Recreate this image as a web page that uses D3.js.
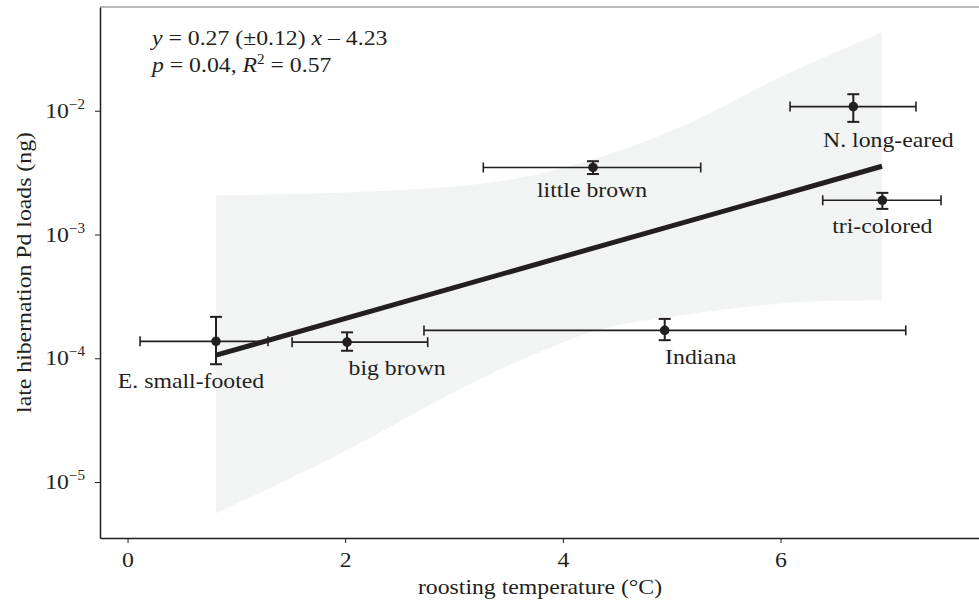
<!DOCTYPE html>
<html>
<head>
<meta charset="utf-8">
<script src="https://cdn.jsdelivr.net/npm/d3@7"></script>
<style>
  body { margin: 0; background: #fff; }
  svg text { font-family: "Liberation Serif", "Times New Roman", serif; fill: #231f20; }
</style>
</head>
<body>
<div id="viz"></div>
<script>
// species summaries (temperature in °C, load in ng)
var species  = ['E. small-footed', 'big brown', 'Indiana', 'little brown', 'N. long-eared', 'tri-colored'];
var tempMean = [0.813, 2.017, 4.936, 4.277, 6.669, 6.936];
var tempLow  = [0.115, 1.512, 2.724, 3.269, 6.088, 6.388];
var tempHigh = [1.291, 2.758, 7.151, 5.267, 7.245, 7.475];
var loadMean = [1.37e-4, 1.35e-4, 1.68e-4, 3.48e-3, 1.08e-2, 1.89e-3];
var loadLow  = [8.95e-5, 1.15e-4, 1.40e-4, 3.08e-3, 8.13e-3, 1.61e-3];
var loadHigh = [2.16e-4, 1.62e-4, 2.08e-4, 3.91e-3, 1.36e-2, 2.17e-3];

// fitted line end points
var fitTemp = [0.813, 6.933];
var fitLoad = [1.06e-4, 3.56e-3];

// confidence band edges
var bandUpperTemp = [0.813, 2.044, 3.423, 4.250, 5.077, 5.996, 6.933];
var bandUpperLoad = [2.07e-3, 2.19e-3, 2.69e-3, 3.98e-3, 7.35e-3, 1.86e-2, 4.31e-2];
var bandLowerTemp = [0.813, 1.888, 2.807, 3.147, 3.698, 4.341, 4.957, 6.060, 6.933];
var bandLowerLoad = [5.6e-6, 1.58e-5, 4.33e-5, 6.2e-5, 1.04e-4, 1.71e-4, 2.14e-4, 2.80e-4, 2.94e-4];

var xTicks = [0, 2, 4, 6];
var yTickExp = [-2, -3, -4, -5];

// label placement relative to each point (pixels)
var labelOffset = {
  'E. small-footed': [-25, 47],
  'big brown':       [50, 33],
  'Indiana':         [36, 34],
  'little brown':    [-1, 30],
  'N. long-eared':   [35, 40],
  'tri-colored':     [0, 33]
};

var W = 979, H = 600;
var plotL = 100, plotR = 979, plotT = 7, plotB = 538;
var ink = '#231f20';
var fs = 22;          // base font size
var stretch = 1.08;   // the original type is set slightly wide

var x = d3.scaleLinear().domain([-0.253, 7.824]).range([plotL, plotR]);
var y = d3.scaleLog().domain([3.53e-6, 0.0689]).range([plotB, plotT]);

var svg = d3.select('#viz').append('svg').attr('width', W).attr('height', H);

// text placed at (px, py), widened horizontally
function label(px, py, rot) {
  return svg.append('g')
    .attr('transform', 'translate(' + px + ',' + py + ')' + (rot ? ' rotate(' + rot + ')' : '') + ' scale(' + stretch + ',1)')
    .append('text').style('font-size', fs + 'px');
}

// confidence band
var edge = d3.line().x(function(d) { return x(d[0]); }).y(function(d) { return y(d[1]); })
  .curve(d3.curveCatmullRom);
var upper = d3.zip(bandUpperTemp, bandUpperLoad);
var lower = d3.zip(bandLowerTemp, bandLowerLoad).reverse();
svg.append('path')
  .attr('d', edge(upper) + 'L' + edge(lower).slice(1) + 'Z')
  .style('fill', '#f2f3f3');

// frame
svg.append('line').attr('x1', plotL).attr('x2', plotR).attr('y1', plotT).attr('y2', plotT)
  .style('stroke', '#a5a5a5').style('stroke-width', 1.5);

// axes
var xAxis = svg.append('g').attr('transform', 'translate(0,' + plotB + ')')
  .call(d3.axisBottom(x).tickValues(xTicks).tickSize(5).tickSizeOuter(0).tickFormat(d3.format('d')));
xAxis.select('.domain').style('stroke', ink).style('stroke-width', 1.5);
xAxis.selectAll('.tick line').style('stroke', ink);
xAxis.selectAll('.tick text')
  .attr('y', 29).attr('dy', 0)
  .attr('transform', 'scale(' + stretch + ',1)')
  .style('font-size', fs + 'px').style('fill', ink);

var yAxis = svg.append('g').attr('transform', 'translate(' + plotL + ',0)')
  .call(d3.axisLeft(y).tickValues(yTickExp.map(function(e) { return Math.pow(10, e); }))
    .tickSize(5).tickSizeOuter(0).tickFormat(''));
yAxis.select('.domain').style('stroke', ink).style('stroke-width', 1.5);
yAxis.selectAll('.tick line').style('stroke', ink);

yTickExp.forEach(function(e) {
  var t = label(plotL - 15, y(Math.pow(10, e)) + 7).attr('text-anchor', 'end');
  t.append('tspan').text('10');
  t.append('tspan').attr('dy', -9).style('font-size', '14px').text('\u2212' + Math.abs(e));
});

// axis titles
label(540, 594).attr('text-anchor', 'middle').text('roosting temperature (\u00b0C)');
label(31, (plotT + plotB) / 2, -90).attr('text-anchor', 'middle').text('late hibernation Pd loads (ng)');

// error bars
var rows = species.map(function(s, i) {
  return { name: s, t: tempMean[i], tl: tempLow[i], th: tempHigh[i],
           v: loadMean[i], vl: loadLow[i], vh: loadHigh[i] };
});
var bars = svg.append('g').style('stroke', ink).style('stroke-width', 1.6).style('fill', 'none');
rows.forEach(function(d) {
  var g = bars.append('g');
  g.append('line').attr('x1', x(d.tl)).attr('x2', x(d.th)).attr('y1', y(d.v)).attr('y2', y(d.v));
  g.append('line').attr('x1', x(d.tl)).attr('x2', x(d.tl)).attr('y1', y(d.v) - 5).attr('y2', y(d.v) + 5);
  g.append('line').attr('x1', x(d.th)).attr('x2', x(d.th)).attr('y1', y(d.v) - 5).attr('y2', y(d.v) + 5);
  g.append('line').attr('x1', x(d.t)).attr('x2', x(d.t)).attr('y1', y(d.vl)).attr('y2', y(d.vh)).style('stroke-width', 2);
  g.append('line').attr('x1', x(d.t) - 6).attr('x2', x(d.t) + 6).attr('y1', y(d.vl)).attr('y2', y(d.vl)).style('stroke-width', 2);
  g.append('line').attr('x1', x(d.t) - 6).attr('x2', x(d.t) + 6).attr('y1', y(d.vh)).attr('y2', y(d.vh)).style('stroke-width', 2);
});

// fitted line
svg.append('path')
  .attr('d', d3.line().x(function(d) { return x(d[0]); }).y(function(d) { return y(d[1]); })(d3.zip(fitTemp, fitLoad)))
  .style('stroke', ink).style('stroke-width', 5).style('fill', 'none');

// points
svg.append('g').selectAll('circle').data(rows).enter()
  .append('circle')
  .attr('cx', function(d) { return x(d.t); })
  .attr('cy', function(d) { return y(d.v); })
  .attr('r', 4.8)
  .style('fill', ink);

// species labels
rows.forEach(function(d) {
  var o = labelOffset[d.name];
  label(x(d.t) + o[0], y(d.v) + o[1]).attr('text-anchor', 'middle').text(d.name);
});

// regression statistics
var eq = label(152, 45);
eq.append('tspan').style('font-style', 'italic').text('y');
eq.append('tspan').text(' = 0.27 (\u00b10.12) ');
eq.append('tspan').style('font-style', 'italic').text('x');
eq.append('tspan').text(' \u2013 4.23');

var st = label(152, 72);
st.append('tspan').style('font-style', 'italic').text('p');
st.append('tspan').text(' = 0.04, ');
st.append('tspan').style('font-style', 'italic').text('R');
st.append('tspan').attr('dy', -8).style('font-size', '14px').text('2');
st.append('tspan').attr('dy', 8).text(' = 0.57');
</script>
</body>
</html>
